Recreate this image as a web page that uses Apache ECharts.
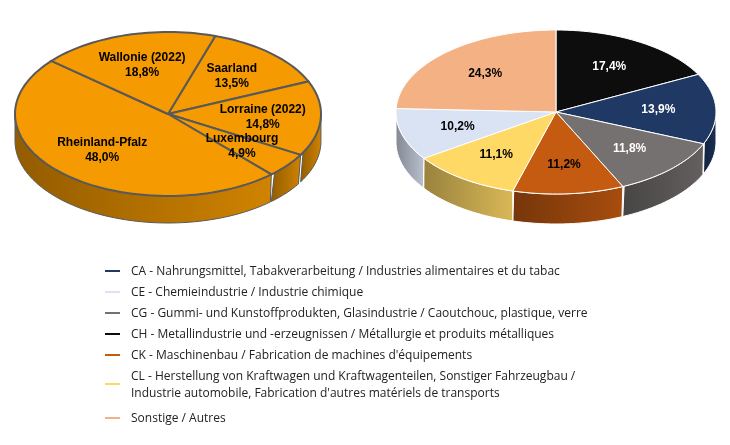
<!DOCTYPE html>
<html>
<head>
<meta charset="utf-8">
<script src="https://cdn.jsdelivr.net/npm/echarts@6/dist/echarts.min.js"></script>
<style>html,body{margin:0;padding:0;background:#fff}#chart{width:730px;height:445px}</style>
</head>
<body>
<div id="chart"></div>
<script>
// left pie: regions
var regionNames = ['Saarland', 'Lorraine (2022)', 'Luxembourg', 'Rheinland-Pfalz', 'Wallonie (2022)'];
var regionValues = [13.5, 14.8, 4.9, 48.0, 18.8];

// right pie: sectors
var sectorCodes = ['CH', 'CA', 'CG', 'CK', 'CL', 'CE', 'Sonstige'];
var sectorValues = [17.4, 13.9, 11.8, 11.2, 11.1, 10.2, 24.3];
var sectorColors = ['#0d0d0d', '#203864', '#767171', '#c55a11', '#ffd966', '#dae3f3', '#f4b183'];
var sectorTextColors = ['#fff', '#fff', '#fff', '#000', '#000', '#000', '#000'];

// legend
var legendLabels = [
    'CA - Nahrungsmittel, Tabakverarbeitung / Industries alimentaires et du tabac',
    'CE - Chemieindustrie / Industrie chimique',
    'CG - Gummi- und Kunstoffprodukten, Glasindustrie / Caoutchouc, plastique, verre',
    'CH - Metallindustrie und -erzeugnissen / Métallurgie et produits métalliques',
    'CK - Maschinenbau / Fabrication de machines d\'équipements',
    'CL - Herstellung von Kraftwagen und Kraftwagenteilen, Sonstiger Fahrzeugbau /\nIndustrie automobile, Fabrication d\'autres matériels de transports',
    'Sonstige / Autres'
];
var legendColors = ['#203864', '#dae3f3', '#767171', '#0d0d0d', '#c55a11', '#ffd966', '#f4b183'];

function fmt(v) { return v.toFixed(1).replace('.', ','); }

function darken(hex, f) {
    var n = parseInt(hex.slice(1), 16);
    var r = Math.round(((n >> 16) & 255) * f), g = Math.round(((n >> 8) & 255) * f), b = Math.round((n & 255) * f);
    return 'rgb(' + r + ',' + g + ',' + b + ')';
}

function pie3d(values, colors, labels, textColors, geo) {
    var total = values.reduce(function (a, b) { return a + b; }, 0);
    var starts = [], acc = 0;
    values.forEach(function (v) { starts.push(geo.start + acc / total * 360); acc += v; });
    function pt(deg, dy) {
        var a = deg * Math.PI / 180;
        return [geo.cx + geo.rx * Math.sin(a), geo.cy - geo.ry * Math.cos(a) + (dy || 0)];
    }
    function sideRange(a0, a1, out) {
        var s0 = Math.max(a0, 90), s1 = Math.min(a1, 270);
        if (s1 > s0) out.push([s0, s1]);
        s0 = Math.max(a0, 450); s1 = Math.min(a1, 630);
        if (s1 > s0) out.push([s0, s1]);
    }
    return {
        type: 'custom',
        coordinateSystem: 'none',
        data: values,
        renderItem: function (params, api) {
            var i = params.dataIndex;
            var a0 = starts[i], a1 = a0 + values[i] / total * 360;
            var children = [];
            var ranges = [];
            sideRange(a0, a1, ranges);
            ranges.forEach(function (r) {
                var s0 = r[0], s1 = r[1], side = [];
                for (var d = s0; d <= s1 + 0.01; d += 2) side.push(pt(Math.min(d, s1)));
                for (var d2 = s1; d2 >= s0 - 0.01; d2 -= 2) side.push(pt(Math.max(d2, s0), geo.depth));
                var c = colors[i];
                children.push({
                    type: 'polygon', shape: { points: side },
                    style: {
                        fill: new echarts.graphic.LinearGradient(0, 0, 1, 0, [
                            { offset: 0, color: darken(c, 0.6) }, { offset: 1, color: darken(c, 0.85) }]),
                        stroke: geo.stroke, lineWidth: 1
                    }
                });
            });
            var top = [[geo.cx, geo.cy]];
            for (var t = a0; t <= a1 + 0.01; t += 2) top.push(pt(Math.min(t, a1)));
            top.push(pt(a1));
            children.push({
                type: 'polygon', shape: { points: top },
                style: { fill: colors[i], stroke: geo.stroke, lineWidth: geo.lineWidth }
            });
            var mid = (a0 + a1) / 2, m = mid * Math.PI / 180;
            children.push({
                type: 'text', z2: 10,
                x: geo.cx + geo.rx * geo.lr * Math.sin(m),
                y: geo.cy - geo.ry * geo.lr * Math.cos(m),
                style: {
                    text: labels[i], fill: textColors[i], align: 'center', verticalAlign: 'middle',
                    font: 'bold 12px Arial, "Liberation Sans", sans-serif', lineHeight: 15
                }
            });
            return { type: 'group', children: children };
        }
    };
}

var regionLabels = regionNames.map(function (n, i) { return n + '\n' + fmt(regionValues[i]) + '%'; });
var regionColors = regionValues.map(function () { return '#f59a00'; });
var regionText = regionValues.map(function () { return '#000'; });
var sectorLabels = sectorValues.map(function (v) { return fmt(v) + '%'; });

var graphics = [];
legendLabels.forEach(function (lab, i) {
    var y = 271 + i * 21 + (i === 6 ? 21 : 0);
    var my = i === 5 ? y + 8 : y;
    graphics.push({ type: 'line', shape: { x1: 105, y1: my, x2: 120, y2: my }, style: { stroke: legendColors[i], lineWidth: 2 } });
    graphics.push({
        type: 'text', x: 131, y: y - 8,
        style: { text: lab, fill: '#222', font: '12px "Open Sans", "Liberation Sans", sans-serif', lineHeight: 17 }
    });
});

var chart = echarts.init(document.getElementById('chart'));
chart.setOption({
    animation: false,
    series: [
        pie3d(regionValues, regionColors, regionLabels, regionText,
            { cx: 168, cy: 114, rx: 153, ry: 82, depth: 27, lr: 0.62, start: 18, stroke: '#595959', lineWidth: 2 }),
        pie3d(sectorValues, sectorColors, sectorLabels, sectorTextColors,
            { cx: 556, cy: 112, rx: 160, ry: 82, depth: 30, lr: 0.64, start: 0, stroke: '#fff', lineWidth: 1 })
    ],
    graphic: graphics
});
</script>
</body>
</html>
